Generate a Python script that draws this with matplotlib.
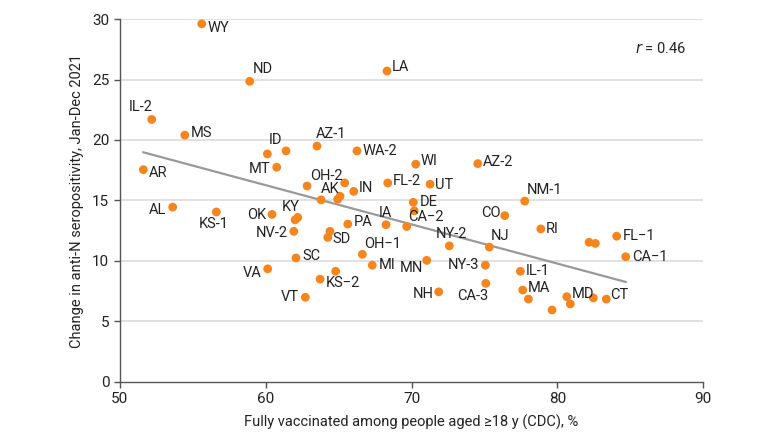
import numpy as np
import matplotlib
matplotlib.use("Agg")
import matplotlib.pyplot as plt
from matplotlib import font_manager

names = {f.name for f in font_manager.fontManager.ttflist}
fam = "Liberation Sans Narrow" if "Liberation Sans Narrow" in names else "Roboto"
plt.rcParams['font.family'] = [fam, 'DejaVu Sans']

# ---- data ----
labels = ["WY", "ND", "LA", "IL-2", "MS", "AR", "AL", "KS-1", "OK", "KY", "",
          "NV-2", "SC", "VA", "KS\u22122", "", "VT", "MT", "", "ID", "AZ-1", "WA-2",
          "WI", "AZ-2", "OH-2", "", "IN", "FL-2", "UT", "AK", "", "", "DE", "",
          "PA", "", "SD", "IA", "CA\u22122", "NY-2", "NJ", "CO", "NM-1", "RI", "", "",
          "FL\u22121", "CA\u22121", "NY-3", "IL-1", "OH\u22121", "MI", "MN", "NH", "CA-3", "MA",
          "", "", "MD", "", "", "CT"]
vaccinated = [55.62, 58.91, 68.32, 52.19, 54.46, 51.62, 53.63, 56.62, 60.44, 62.02, 62.20,
              61.93, 62.08, 60.14, 63.73, 64.80, 62.72, 60.76, 60.12, 61.40, 63.52, 66.26,
              70.29, 74.54, 62.84, 65.42, 66.04, 68.37, 71.27, 63.80, 65.10, 64.94, 70.12, 70.19,
              65.63, 64.41, 64.26, 68.25, 69.67, 72.59, 75.33, 76.39, 77.76, 78.86, 82.17, 82.60,
              84.06, 84.68, 75.06, 77.46, 66.63, 67.31, 71.04, 71.86, 75.09, 77.62,
              78.01, 79.63, 80.64, 80.88, 82.46, 83.35]
change = [29.6, 24.85, 25.7, 21.7, 20.4, 17.55, 14.45, 14.05, 13.85, 13.4, 13.6,
          12.45, 10.25, 9.35, 8.5, 9.15, 7.0, 17.75, 18.85, 19.1, 19.5, 19.1,
          18.0, 18.05, 16.2, 16.45, 15.75, 16.45, 16.35, 15.05, 15.35, 15.1, 14.85, 14.15,
          13.05, 12.45, 11.95, 13.0, 12.85, 11.25, 11.15, 13.75, 14.95, 12.65, 11.55, 11.45,
          12.05, 10.35, 9.65, 9.15, 10.55, 9.65, 10.05, 7.45, 8.15, 7.6,
          6.85, 5.95, 7.05, 6.45, 6.95, 6.85]
r_value = 0.46
x_ticks = [50, 60, 70, 80, 90]
y_ticks = [0, 5, 10, 15, 20, 25, 30]

# label offsets in pixels (dx, dy, ha, va)
offsets = {
    "WY": (6, -4, "left", "center"), "ND": (3, 5, "left", "bottom"),
    "LA": (5, 4, "left", "center"), "IL-2": (1, 5, "right", "bottom"),
    "MS": (6, 2, "left", "center"), "AR": (5, -3, "left", "center"),
    "AL": (-6, -3, "right", "center"), "KS-1": (-3, -5, "center", "top"),
    "OK": (-6, -1, "right", "center"), "KY": (-4, 6, "center", "bottom"),
    "NV-2": (-6, -2, "right", "center"), "SC": (6, 2, "left", "center"),
    "VA": (-6, -4, "right", "center"), "KS\u22122": (6, -4, "left", "center"),
    "VT": (-6, 0, "right", "center"), "MT": (-6, -2, "right", "center"),
    "ID": (-4, 4, "right", "bottom"), "AZ-1": (-1, 5, "left", "bottom"),
    "WA-2": (6, 0, "left", "center"), "WI": (5, 3, "left", "center"),
    "AZ-2": (5, 2, "left", "center"), "OH-2": (3, 3, "left", "bottom"),
    "IN": (5, 3, "left", "center"), "FL-2": (5, 2, "left", "center"),
    "UT": (5, -1, "left", "center"), "AK": (0, 4, "left", "bottom"),
    "DE": (6, 0, "left", "center"), "PA": (6, 2, "left", "center"),
    "SD": (5, -2, "left", "center"), "IA": (-1, 5, "center", "bottom"),
    "CA\u22122": (1, 3, "left", "bottom"), "NY-2": (2, 5, "center", "bottom"),
    "NJ": (1, 4, "left", "bottom"), "CO": (-4, 3, "right", "center"),
    "NM-1": (2, 4, "left", "bottom"), "RI": (5, 0, "left", "center"),
    "FL\u22121": (6, 0, "left", "center"), "CA\u22121": (6, 0, "left", "center"),
    "NY-3": (-6, 0, "right", "center"), "IL-1": (5, 0, "left", "center"),
    "OH\u22121": (2, 3, "left", "bottom"), "MI": (6, 0, "left", "center"),
    "MN": (-4, -8, "right", "center"), "NH": (-5, -2, "right", "center"),
    "CA-3": (3, -6, "right", "top"), "MA": (5, 2, "left", "center"),
    "MD": (5, 3, "left", "center"), "CT": (4, 4, "left", "center"),
}

ORANGE = "#F7851E"
TEXT = "#222222"

fig = plt.figure(figsize=(7.8, 4.36), dpi=100)
ax = fig.add_axes([0.1535, 0.1239, 0.9017 - 0.1535, 0.9564 - 0.1239])

ax.set_xlim(50, 90)
ax.set_ylim(0, 30)
for yv in y_ticks[1:]:
    ax.axhline(yv, color="#dcdcdc", lw=1.2, zorder=0)

x = np.array(vaccinated)
y = np.array(change)
slope, intercept = np.polyfit(x, y, 1)
xs = np.array([x.min(), x.max()])
ax.plot(xs, slope * xs + intercept, color="#999999", lw=1.6, zorder=1)

ax.scatter(x, y, s=40, color=ORANGE, edgecolor="none", zorder=3)

for xi, yi, lab in zip(vaccinated, change, labels):
    if not lab:
        continue
    dx, dy, ha, va = offsets[lab]
    ax.annotate(lab, (xi, yi), xytext=(dx * 0.72, dy * 0.72),
                textcoords="offset points", ha=ha, va=va, fontsize=10.5,
                color=TEXT, zorder=4)

ax.text(0.97, 0.92, r"$\it{r}$" + f" = {r_value:.2f}", transform=ax.transAxes,
        ha="right", va="center", fontsize=10.5, color=TEXT)

ax.set_xticks(x_ticks)
ax.set_yticks(y_ticks)
ax.tick_params(axis="both", labelsize=11, colors="#555555", labelcolor=TEXT, length=4, width=1)
for s in ("top", "right"):
    ax.spines[s].set_visible(False)
for s in ("left", "bottom"):
    ax.spines[s].set_color("#555555")
    ax.spines[s].set_linewidth(1)

ax.set_xlabel("Fully vaccinated among people aged \u226518 y (CDC), %", fontsize=10.5, color=TEXT, labelpad=6)
ax.set_ylabel("Change in anti-N seropositivity, Jan-Dec 2021", fontsize=10.5, color=TEXT, labelpad=6)

fig.savefig("out.png", dpi=100)
